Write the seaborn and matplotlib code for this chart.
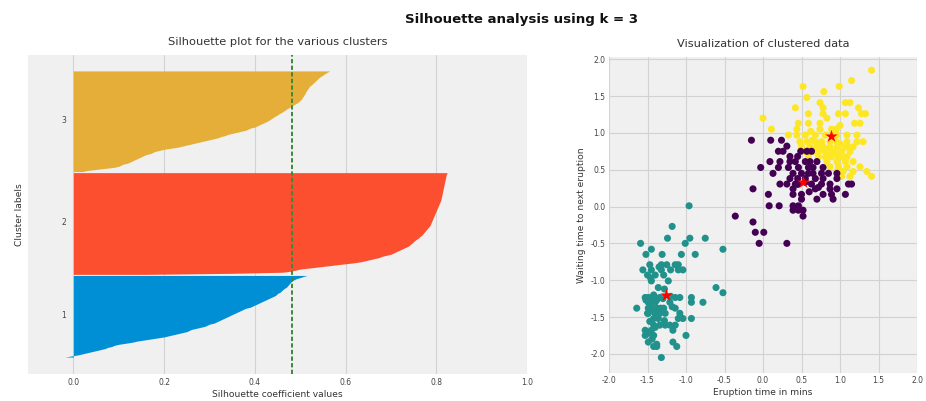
import numpy as np
import pandas as pd
import matplotlib
matplotlib.use("Agg")
import matplotlib.pyplot as plt
import seaborn as sns

# ---------------- data ----------------
cluster_labels = ["1", "2", "3"]
cluster_colors = ["#008fd5", "#fc4f30", "#e5ae38"]
silhouette_avg = 0.483

sil_cluster1 = [-0.018, -0.005, 0.01, 0.02, 0.03, 0.04, 0.05, 0.06, 0.07, 0.075,
                0.085, 0.09, 0.10, 0.115, 0.13, 0.14, 0.155, 0.17, 0.185, 0.20,
                0.21, 0.22, 0.23, 0.24, 0.25, 0.255, 0.26, 0.27, 0.28, 0.29,
                0.295, 0.30, 0.31, 0.315, 0.32, 0.325, 0.33, 0.335, 0.34, 0.345,
                0.35, 0.355, 0.36, 0.365, 0.37, 0.375, 0.38, 0.39, 0.395, 0.40,
                0.405, 0.41, 0.415, 0.42, 0.425, 0.43, 0.435, 0.44, 0.445, 0.448,
                0.45, 0.455, 0.458, 0.46, 0.463, 0.466, 0.47, 0.472, 0.474, 0.476,
                0.478, 0.48, 0.483, 0.487, 0.492, 0.50, 0.507, 0.515]

sil_cluster2 = [0.16, 0.35, 0.46, 0.48, 0.49, 0.50, 0.52, 0.54, 0.56, 0.58,
                0.60, 0.62, 0.635, 0.645, 0.655, 0.665, 0.675, 0.68, 0.69, 0.70,
                0.705, 0.71, 0.715, 0.72, 0.725, 0.73, 0.735, 0.74, 0.742, 0.745,
                0.748, 0.75, 0.753, 0.756, 0.76, 0.762, 0.765, 0.768, 0.77, 0.772,
                0.774, 0.776, 0.778, 0.78, 0.782, 0.784, 0.786, 0.787, 0.788, 0.789,
                0.79, 0.791, 0.792, 0.793, 0.794, 0.795, 0.796, 0.797, 0.798, 0.799,
                0.80, 0.801, 0.802, 0.803, 0.804, 0.805, 0.806, 0.807, 0.808, 0.809,
                0.81, 0.8105, 0.811, 0.8115, 0.812, 0.8125, 0.813, 0.8135, 0.814, 0.8145,
                0.815, 0.8155, 0.816, 0.8165, 0.817, 0.8175, 0.818, 0.8185, 0.819, 0.8195,
                0.82, 0.8205, 0.821, 0.8215, 0.822, 0.823, 0.824]

sil_cluster3 = [0.02, 0.03, 0.05, 0.07, 0.09, 0.10, 0.105, 0.11, 0.12, 0.125,
                0.13, 0.135, 0.14, 0.145, 0.15, 0.155, 0.16, 0.17, 0.175, 0.18,
                0.19, 0.20, 0.215, 0.23, 0.24, 0.25, 0.26, 0.27, 0.28, 0.29,
                0.30, 0.31, 0.32, 0.325, 0.335, 0.34, 0.35, 0.36, 0.37, 0.38,
                0.385, 0.39, 0.40, 0.405, 0.41, 0.415, 0.42, 0.425, 0.43, 0.433,
                0.437, 0.44, 0.444, 0.448, 0.452, 0.455, 0.46, 0.463, 0.467, 0.47,
                0.474, 0.478, 0.482, 0.486, 0.49, 0.494, 0.497, 0.50, 0.502, 0.504,
                0.505, 0.507, 0.508, 0.51, 0.511, 0.512, 0.514, 0.515, 0.517, 0.518,
                0.52, 0.522, 0.525, 0.528, 0.53, 0.533, 0.535, 0.538, 0.54, 0.543,
                0.546, 0.55, 0.553, 0.557, 0.561, 0.565]

# scatter points (eruption, waiting) per cluster
yellow_points = [
    (1.41, 1.85), (1.15, 1.71), (0.52, 1.63), (0.99, 1.63), (0.79, 1.56), (0.57, 1.48),
    (0.74, 1.41), (1.07, 1.41), (1.13, 1.41),
    (1.24, 1.34), (0.42, 1.34), (0.78, 1.34),
    (0.59, 1.26), (0.78, 1.26), (0.98, 1.26), (1.07, 1.26), (1.28, 1.26), (1.33, 1.26),
    (0.00, 1.20), (0.83, 1.20),
    (0.46, 1.13), (0.59, 1.13), (0.74, 1.13), (1.19, 1.13), (1.26, 1.13),
    (0.11, 1.05), (0.44, 1.05), (0.74, 1.05), (0.89, 1.05), (0.95, 1.05),
    (0.33, 0.97), (0.44, 0.97), (0.55, 0.97), (0.68, 0.97), (0.81, 0.97), (0.96, 0.97), (1.09, 0.97), (1.22, 0.97),
    (0.48, 0.88), (0.57, 0.88), (0.68, 0.88), (0.76, 0.88), (0.87, 0.88), (0.96, 0.88), (1.09, 0.88), (1.22, 0.88), (1.30, 0.88),
    (0.50, 0.81), (0.61, 0.81), (0.70, 0.81), (0.78, 0.81), (0.87, 0.81), (0.96, 0.81), (1.07, 0.81), (1.17, 0.81),
    (0.55, 0.745), (0.66, 0.745), (0.72, 0.745), (0.81, 0.745), (0.91, 0.745), (1.02, 0.745), (1.13, 0.745),
    (0.59, 0.675), (0.72, 0.675), (0.81, 0.675), (0.89, 0.675), (0.98, 0.675), (1.09, 0.675),
    (0.83, 0.61), (0.96, 0.61), (1.07, 0.61), (1.17, 0.61),
    (0.87, 0.54), (0.98, 0.54), (1.09, 0.54), (1.26, 0.54),
    (0.96, 0.475), (1.04, 0.475), (1.17, 0.475), (1.35, 0.475),
    (1.02, 0.41), (1.13, 0.41), (1.41, 0.41),
    (0.64, 0.90), (0.92, 0.93), (1.00, 0.85), (0.83, 0.78), (0.74, 0.84), (0.95, 0.72),
    (1.05, 0.66), (0.86, 0.70), (1.12, 0.80), (0.69, 0.78), (0.90, 1.00), (1.00, 1.10), (0.62, 1.02),
]

purple_points = [
    (-0.15, 0.90), (0.10, 0.90), (0.24, 0.90),
    (0.31, 0.82),
    (0.20, 0.75), (0.26, 0.75), (0.49, 0.75), (0.57, 0.75), (0.63, 0.75),
    (0.35, 0.68), (0.45, 0.68),
    (0.09, 0.61), (0.22, 0.61), (0.35, 0.61), (0.42, 0.61), (0.55, 0.61), (0.61, 0.61), (0.70, 0.61),
    (-0.03, 0.53), (0.20, 0.53), (0.33, 0.53), (0.46, 0.53), (0.59, 0.53), (0.65, 0.53), (0.78, 0.53),
    (0.13, 0.45), (0.39, 0.45), (0.50, 0.45), (0.59, 0.45), (0.65, 0.45), (0.76, 0.45), (0.85, 0.45), (0.96, 0.45),
    (0.35, 0.38), (0.45, 0.38), (0.55, 0.38), (0.68, 0.38), (0.78, 0.38), (0.96, 0.38),
    (0.22, 0.305), (0.31, 0.305), (0.42, 0.305), (0.63, 0.305), (0.76, 0.305), (0.87, 0.305), (1.11, 0.305), (1.15, 0.305),
    (-0.13, 0.24), (0.39, 0.24), (0.68, 0.24), (0.87, 0.24), (0.96, 0.24),
    (0.07, 0.165), (0.39, 0.165), (0.50, 0.165), (0.78, 0.165), (0.89, 0.165), (1.07, 0.165),
    (0.50, 0.10), (0.70, 0.10), (0.91, 0.10),
    (0.08, 0.01), (0.21, 0.01), (0.39, 0.01), (0.46, 0.01),
    (0.39, -0.05), (0.46, -0.05), (0.52, -0.05),
    (0.52, -0.13),
    (-0.36, -0.13), (-0.13, -0.21), (-0.10, -0.35), (0.01, -0.35), (-0.05, -0.50), (0.31, -0.50),
    (0.55, 0.33), (0.45, 0.30), (0.60, 0.20), (0.72, 0.26),
]

teal_points = [
    (-0.96, 0.01),
    (-1.18, -0.27),
    (-1.24, -0.43), (-0.95, -0.43), (-0.75, -0.43),
    (-1.59, -0.50), (-1.01, -0.50),
    (-1.45, -0.58), (-0.52, -0.58),
    (-1.52, -0.65), (-1.31, -0.65), (-1.06, -0.65), (-0.88, -0.65),
    (-1.47, -0.79), (-1.32, -0.79), (-1.25, -0.79), (-1.14, -0.79), (-1.10, -0.79),
    (-1.56, -0.86), (-1.45, -0.86), (-1.32, -0.86), (-1.10, -0.86), (-1.04, -0.86),
    (-1.50, -0.93), (-1.40, -0.93), (-1.29, -0.93),
    (-1.45, -1.01), (-1.23, -1.01),
    (-0.61, -1.10),
    (-0.52, -1.17),
    (-1.53, -1.235), (-1.49, -1.235), (-1.45, -1.235), (-1.40, -1.235), (-1.34, -1.235), (-1.14, -1.235), (-1.08, -1.235), (-0.93, -1.235),
    (-1.49, -1.30), (-1.40, -1.30), (-1.21, -1.30), (-0.93, -1.30), (-0.78, -1.30),
    (-1.64, -1.38), (-1.49, -1.38), (-1.45, -1.38), (-1.38, -1.38), (-1.29, -1.38), (-1.14, -1.38),
    (-1.49, -1.45), (-1.40, -1.45), (-1.34, -1.45), (-1.27, -1.45), (-1.08, -1.45),
    (-1.42, -1.52), (-1.10, -1.52), (-1.04, -1.52), (-0.93, -1.52),
    (-1.42, -1.61), (-1.34, -1.61), (-1.27, -1.61), (-1.21, -1.61), (-1.14, -1.61),
    (-1.53, -1.68), (-1.45, -1.68), (-1.17, -1.68),
    (-1.53, -1.75), (-1.42, -1.75), (-1.00, -1.75),
    (-1.49, -1.84), (-1.17, -1.84),
    (-1.42, -1.90), (-1.38, -1.90), (-1.12, -1.90),
    (-1.32, -2.05),
    (-1.42, -1.20), (-1.38, -1.27), (-1.46, -1.33), (-1.42, -1.42), (-1.36, -1.52), (-1.47, -1.56),
    (-1.40, -1.64), (-1.30, -1.25), (-1.20, -1.22), (-1.18, -1.36), (-1.36, -1.10), (-1.28, -1.12),
    (-1.48, -1.72), (-1.44, -1.80), (-1.38, -1.87), (-1.52, -1.27), (-1.33, -1.38), (-1.46, -0.97),
    (-1.35, -0.82), (-1.20, -0.86), (-1.28, -1.55), (-1.50, -1.45),
]

centroids_x = [0.515, -1.26, 0.88]
centroids_y = [0.33, -1.20, 0.96]

viridis3 = {"c0": "#440154", "c1": "#21918c", "c2": "#fde725"}

# ---------------- style ----------------
sns.set_theme(style="whitegrid")
plt.rcParams.update({
    "font.family": ["DejaVu Sans"],
    "axes.facecolor": "#f0f0f0",
    "axes.edgecolor": "#f0f0f0",
    "grid.color": "#cbcbcb",
    "grid.linewidth": 0.8,
    "xtick.major.size": 0,
    "ytick.major.size": 0,
    "text.color": "#333333",
    "axes.labelcolor": "#333333",
    "xtick.color": "#444444",
    "ytick.color": "#444444",
})

W, H = 926, 401
fig = plt.figure(figsize=(W / 100, H / 100), dpi=100, facecolor="white")
ax1 = fig.add_axes([28 / W, 1 - 374 / H, (527 - 28) / W, (374 - 55) / H])
ax2 = fig.add_axes([609 / W, 1 - 373 / H, (917 - 609) / W, (373 - 57) / H])

# ---------------- silhouette plot ----------------
y_lower = 10
for vals, lab, col in zip([sil_cluster1, sil_cluster2, sil_cluster3], cluster_labels, cluster_colors):
    vals = np.sort(np.asarray(vals))
    n = len(vals)
    y_upper = y_lower + n
    ax1.fill_betweenx(np.arange(y_lower, y_upper), 0, vals, facecolor=col, edgecolor=col, linewidth=0)
    ax1.text(-0.022, y_lower + 0.5 * n, lab, ha="center", va="center", fontsize=5.5, color="#444444")
    y_lower = y_upper

ax1.axvline(x=silhouette_avg, color="#3a8a3a", linestyle=(0, (2.2, 1.2)), linewidth=1.4)
ax1.set_xlim(-0.1, 1.0)
ax1.set_ylim(-6, 295)
ax1.set_yticks([])
ax1.set_xticks([0.0, 0.2, 0.4, 0.6, 0.8, 1.0])
ax1.set_xticklabels(["0.0", "0.2", "0.4", "0.6", "0.8", "1.0"])
ax1.grid(axis="x", color="#d2d2d2", linewidth=0.8)
ax1.grid(axis="y", visible=False)
ax1.tick_params(axis="x", labelsize=5.5, pad=3)
ax1.set_xlabel("Silhouette coefficient values", fontsize=6.6, labelpad=2)
ax1.set_ylabel("Cluster labels", fontsize=6.6, labelpad=3)
ax1.set_title("Silhouette plot for the various clusters", fontsize=8.2, pad=7)
for s in ax1.spines.values():
    s.set_visible(False)

# ---------------- scatter ----------------
rows = []
for name, pts in [("c2", yellow_points), ("c0", purple_points), ("c1", teal_points)]:
    for ex, wt in pts:
        rows.append({"eruption": ex, "waiting": wt, "cluster": name})
df = pd.DataFrame(rows)

sns.scatterplot(data=df, x="eruption", y="waiting", hue="cluster", palette=viridis3,
                s=26, linewidth=0, legend=False, ax=ax2, zorder=3)
cent = pd.DataFrame({"x": centroids_x, "y": centroids_y})
sns.scatterplot(data=cent, x="x", y="y", marker="*", color="red", s=90, linewidth=0, ax=ax2, zorder=4)

ax2.set_xlim(-2, 2)
ax2.set_ylim(-2.26, 2.03)
ticks = [-2.0, -1.5, -1.0, -0.5, 0.0, 0.5, 1.0, 1.5, 2.0]
ax2.set_xticks(ticks)
ax2.set_yticks(ticks)
ax2.set_xticklabels([f"{t:.1f}" for t in ticks])
ax2.set_yticklabels([f"{t:.1f}" for t in ticks])
ax2.grid(True, color="#d2d2d2", linewidth=0.8)
ax2.tick_params(axis="both", labelsize=5.5, pad=2.5)
ax2.set_xlabel("Eruption time in mins", fontsize=6.6, labelpad=2)
ax2.set_ylabel("Waiting time to next eruption", fontsize=6.6, labelpad=3)
ax2.set_title("Visualization of clustered data", fontsize=8.2, pad=7)
for s in ax2.spines.values():
    s.set_visible(False)

fig.suptitle("Silhouette analysis using k = 3", fontsize=9.6, fontweight="bold",
             x=522 / W, y=0.968, color="#111111")

fig.savefig("out.png", dpi=100, facecolor="white")
